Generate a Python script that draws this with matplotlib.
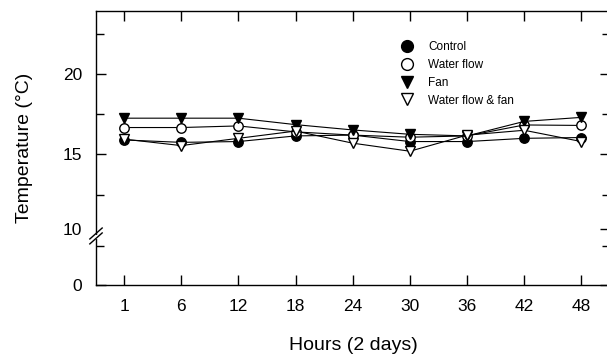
import matplotlib
matplotlib.use('Agg')
import matplotlib.pyplot as plt
from matplotlib.ticker import FixedLocator

plt.rcParams['font.family'] = ['Liberation Sans', 'DejaVu Sans']

# Dane
hours = ['1', '6', '12', '18', '24', '30', '36', '42', '48']
control = [15.9, 15.75, 15.8, 16.15, 16.2, 15.8, 15.8, 16.0, 16.05]
water_flow = [16.67, 16.67, 16.77, 16.4, 16.2, 16.07, 16.15, 16.83, 16.8]
fan = [17.25, 17.25, 17.25, 16.85, 16.52, 16.25, 16.15, 17.05, 17.3]
water_fan = [15.95, 15.55, 16.0, 16.45, 15.7, 15.2, 16.2, 16.5, 15.8]

W, H = 607, 358
fig = plt.figure(figsize=(W / 100, H / 100), dpi=100)
ax = fig.add_axes([96 / W, (H - 285) / H, (610 - 96) / W, (285 - 11) / H])

x = range(len(hours))
ms = 6.8
ax.plot(x, control, color='black', lw=0.8, marker='o', ms=ms, mfc='black', mec='black', label='Control', zorder=3)
ax.plot(x, water_flow, color='black', lw=0.8, marker='o', ms=ms, mfc='white', mec='black', label='Water flow', zorder=4)
ax.plot(x, fan, color='black', lw=0.8, marker='v', ms=ms + 0.6, mfc='black', mec='black', label='Fan', zorder=5)
ax.plot(x, water_fan, color='black', lw=0.8, marker='v', ms=ms + 0.6, mfc='white', mec='black', label='Water flow & fan', zorder=6)

# Oś X
ax.set_xlim(-0.49, 8.5)
ax.set_xticks(list(x))
ax.set_xticklabels(hours, fontsize=12.5)
ax.set_xlabel('Hours (2 days)', fontsize=14, labelpad=17)

# Oś Y z przerwaniem (0 na dole, potem 10-24)
ax.set_ylim(6.9, 23.9)
ax.set_yticks([6.9, 10.35, 15, 20])
ax.set_yticklabels(['0', '10', '15', '20'], fontsize=12.5)
ax.yaxis.set_minor_locator(FixedLocator([9.3, 12.5, 17.5, 22.5]))
ax.yaxis.get_major_ticks()[1].tick1line.set_visible(False)
ax.yaxis.get_major_ticks()[1].tick2line.set_visible(False)
ax.set_ylabel('Temperature (°C)', fontsize=14, labelpad=21)

ax.tick_params(axis='both', which='major', direction='in', length=7, width=1,
               top=True, right=True, pad=10)
ax.tick_params(axis='both', which='minor', direction='in', length=6, width=1,
               top=True, right=True)
for s in ax.spines.values():
    s.set_linewidth(1)

# Znak przerwania osi
for dy in (0.0, 0.018):
    ax.plot([-0.012, 0.012], [0.15 + dy, 0.19 + dy], transform=ax.transAxes,
            color='black', lw=1, clip_on=False, zorder=10)
ax.plot([-0.004, 0.004], [0.175, 0.175], transform=ax.transAxes, color='white',
        lw=3, clip_on=False, zorder=9)

leg = ax.legend(loc='upper left', bbox_to_anchor=(394 / W, 1 - 35 / H),
                bbox_transform=fig.transFigure, frameon=False, fontsize=8.5,
                handlelength=1.2, handletextpad=1.2, labelspacing=0.5,
                borderpad=0, markerscale=1.25)
for h in leg.legend_handles:
    h.set_linestyle('none')

fig.savefig('out.png', dpi=100)
